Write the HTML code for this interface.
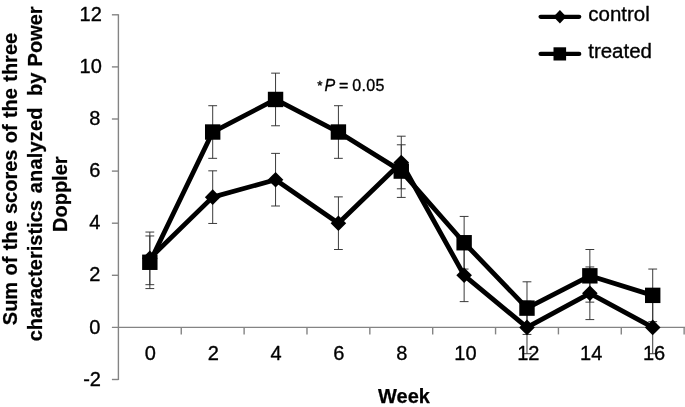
<!DOCTYPE html>
<html><head><meta charset="utf-8"><title>chart</title>
<style>
html,body{margin:0;padding:0;background:#fff;}
body{width:685px;height:407px;overflow:hidden;font-family:"Liberation Sans",sans-serif;}
svg{display:block;position:absolute;left:0;top:0;filter:grayscale(1);}
text{white-space:pre;}
</style></head><body>
<svg width="685" height="407" viewBox="0 0 685 407">
<g stroke="#848484" stroke-width="1.4" fill="none">
<line x1="118.4" y1="14.20" x2="118.4" y2="380.10"/>
<line x1="111.9" y1="327.4" x2="685" y2="327.4"/>
<line x1="111.90" y1="379.50" x2="118.4" y2="379.50"/>
<line x1="111.90" y1="275.30" x2="118.4" y2="275.30"/>
<line x1="111.90" y1="223.20" x2="118.4" y2="223.20"/>
<line x1="111.90" y1="171.10" x2="118.4" y2="171.10"/>
<line x1="111.90" y1="119.00" x2="118.4" y2="119.00"/>
<line x1="111.90" y1="66.90" x2="118.4" y2="66.90"/>
<line x1="111.90" y1="14.80" x2="118.4" y2="14.80"/>
<line x1="181.26" y1="327.4" x2="181.26" y2="334.40"/>
<line x1="244.12" y1="327.4" x2="244.12" y2="334.40"/>
<line x1="306.98" y1="327.4" x2="306.98" y2="334.40"/>
<line x1="369.84" y1="327.4" x2="369.84" y2="334.40"/>
<line x1="432.70" y1="327.4" x2="432.70" y2="334.40"/>
<line x1="495.56" y1="327.4" x2="495.56" y2="334.40"/>
<line x1="558.42" y1="327.4" x2="558.42" y2="334.40"/>
<line x1="621.28" y1="327.4" x2="621.28" y2="334.40"/>
<line x1="684.14" y1="327.4" x2="684.14" y2="334.40"/>
</g>
<g stroke="#303030" stroke-width="0.95" fill="none">
<path d="M149.83 232.06V284.68M145.43 232.06h8.8M145.43 284.68h8.8"/>
<path d="M212.69 170.84V223.46M208.29 170.84h8.8M208.29 223.46h8.8"/>
<path d="M275.55 153.39V206.01M271.15 153.39h8.8M271.15 206.01h8.8"/>
<path d="M338.41 196.89V249.51M334.01 196.89h8.8M334.01 249.51h8.8"/>
<path d="M401.27 136.19V188.81M396.87 136.19h8.8M396.87 188.81h8.8"/>
<path d="M464.13 248.99V301.61M459.73 248.99h8.8M459.73 301.61h8.8"/>
<path d="M526.99 301.09V353.71M522.59 301.09h8.8M522.59 353.71h8.8"/>
<path d="M589.85 266.96V319.58M585.45 266.96h8.8M585.45 319.58h8.8"/>
<path d="M652.71 301.09V353.71M648.31 301.09h8.8M648.31 353.71h8.8"/>
<path d="M149.83 235.96V288.59M145.43 235.96h8.8M145.43 288.59h8.8"/>
<path d="M212.69 105.71V158.34M208.29 105.71h8.8M208.29 158.34h8.8"/>
<path d="M275.55 73.15V125.77M271.15 73.15h8.8M271.15 125.77h8.8"/>
<path d="M338.41 105.71V158.34M334.01 105.71h8.8M334.01 158.34h8.8"/>
<path d="M401.27 144.79V197.41M396.87 144.79h8.8M396.87 197.41h8.8"/>
<path d="M464.13 216.43V269.05M459.73 216.43h8.8M459.73 269.05h8.8"/>
<path d="M526.99 281.81V334.43M522.59 281.81h8.8M522.59 334.43h8.8"/>
<path d="M589.85 249.51V302.13M585.45 249.51h8.8M585.45 302.13h8.8"/>
<path d="M652.71 269.05V321.67M648.31 269.05h8.8M648.31 321.67h8.8"/>
</g>
<polyline points="149.83,258.37 212.69,197.15 275.55,179.70 338.41,223.20 401.27,162.50 464.13,275.30 526.99,327.40 589.85,293.27 652.71,327.40" fill="none" stroke="#000" stroke-width="4.8" stroke-linejoin="round" stroke-linecap="round"/>
<polyline points="149.83,262.27 212.69,132.02 275.55,99.46 338.41,132.02 401.27,171.10 464.13,242.74 526.99,308.12 589.85,275.82 652.71,295.36" fill="none" stroke="#000" stroke-width="4.8" stroke-linejoin="round" stroke-linecap="round"/>
<path d="M149.83 250.57L157.63 258.37L149.83 266.17L142.03 258.37Z" fill="#000"/>
<path d="M212.69 189.35L220.49 197.15L212.69 204.95L204.89 197.15Z" fill="#000"/>
<path d="M275.55 171.90L283.35 179.70L275.55 187.50L267.75 179.70Z" fill="#000"/>
<path d="M338.41 215.40L346.21 223.20L338.41 231.00L330.61 223.20Z" fill="#000"/>
<path d="M401.27 154.70L409.07 162.50L401.27 170.30L393.47 162.50Z" fill="#000"/>
<path d="M464.13 267.50L471.93 275.30L464.13 283.10L456.33 275.30Z" fill="#000"/>
<path d="M526.99 319.60L534.79 327.40L526.99 335.20L519.19 327.40Z" fill="#000"/>
<path d="M589.85 285.47L597.65 293.27L589.85 301.07L582.05 293.27Z" fill="#000"/>
<path d="M652.71 319.60L660.51 327.40L652.71 335.20L644.91 327.40Z" fill="#000"/>
<rect x="142.13" y="254.57" width="15.4" height="15.4" fill="#000"/>
<rect x="204.99" y="124.32" width="15.4" height="15.4" fill="#000"/>
<rect x="267.85" y="91.76" width="15.4" height="15.4" fill="#000"/>
<rect x="330.71" y="124.32" width="15.4" height="15.4" fill="#000"/>
<rect x="393.57" y="163.40" width="15.4" height="15.4" fill="#000"/>
<rect x="456.43" y="235.04" width="15.4" height="15.4" fill="#000"/>
<rect x="519.29" y="300.42" width="15.4" height="15.4" fill="#000"/>
<rect x="582.15" y="268.12" width="15.4" height="15.4" fill="#000"/>
<rect x="645.01" y="287.66" width="15.4" height="15.4" fill="#000"/>
<g stroke="#000" stroke-width="4.3" stroke-linecap="round"><line x1="540.6" y1="16.8" x2="579.2" y2="16.8"/><line x1="540.6" y1="53.9" x2="579.2" y2="53.9"/></g>
<path d="M559.9 10.0L566.3 16.8L559.9 23.6L553.5 16.8Z" fill="#000"/>
<rect x="553.5" y="47.3" width="12.6" height="13.2" fill="#000"/>
<g font-family="Liberation Sans, sans-serif" font-size="20" fill="#000" stroke="#000" stroke-width="0.35" stroke-linejoin="round">
<text x="101.0" y="385.60" text-anchor="end">-2</text>
<text x="100.3" y="333.50" text-anchor="end">0</text>
<text x="100.3" y="281.40" text-anchor="end">2</text>
<text x="100.3" y="229.30" text-anchor="end">4</text>
<text x="100.3" y="177.20" text-anchor="end">6</text>
<text x="100.3" y="125.10" text-anchor="end">8</text>
<text x="101.8" y="73.00" text-anchor="end">10</text>
<text x="101.8" y="20.90" text-anchor="end">12</text>
<text x="150.33" y="360.2" text-anchor="middle">0</text>
<text x="213.19" y="360.2" text-anchor="middle">2</text>
<text x="276.05" y="360.2" text-anchor="middle">4</text>
<text x="338.91" y="360.2" text-anchor="middle">6</text>
<text x="401.77" y="360.2" text-anchor="middle">8</text>
<text x="465.43" y="360.2" text-anchor="middle">10</text>
<text x="528.29" y="360.2" text-anchor="middle">12</text>
<text x="591.15" y="360.2" text-anchor="middle">14</text>
<text x="654.01" y="360.2" text-anchor="middle">16</text>
<text x="588.3" y="20.7" font-size="20.5">control</text>
<text x="588.2" y="57.7" font-size="20.5">treated</text>
<text x="317.2" y="91.2" font-size="16" word-spacing="-0.6"><tspan font-size="13.5" dy="-1.4">*</tspan><tspan font-style="italic" dy="1.4" dx="2.1">P</tspan> = <tspan letter-spacing="0.3">0.05</tspan></text>
<g font-weight="bold" stroke-width="0.25">
<text x="378" y="402.6">Week</text>
<text transform="translate(17.1 325.2) rotate(-90)" word-spacing="0.75">Sum of the scores of the three</text>
<text transform="translate(41.6 341.3) rotate(-90)" word-spacing="0.75">characteristics <tspan dx="0.6" letter-spacing="0.18">analyzed</tspan>  <tspan dx="-1.3">by</tspan> <tspan dx="-0.1">Power</tspan></text>
<text transform="translate(67.4 232) rotate(-90)">Doppler</text>
</g></g>
</svg>
</body></html>
